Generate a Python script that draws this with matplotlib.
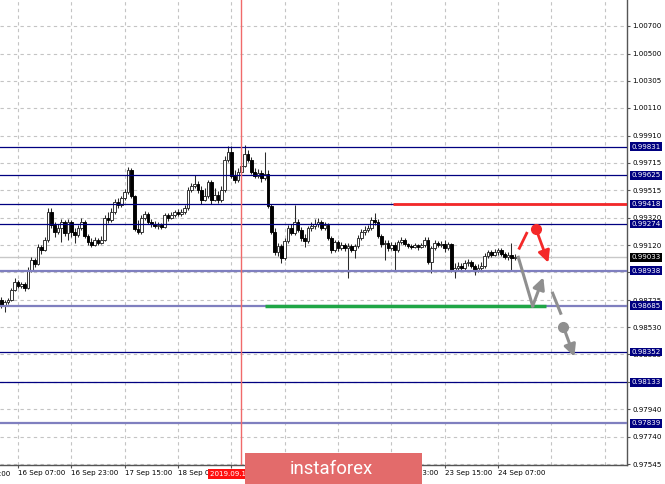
import numpy as np
import matplotlib
matplotlib.use("Agg")
import matplotlib.pyplot as plt
from matplotlib.patches import Rectangle
from matplotlib.transforms import blended_transform_factory

# EURCHF-like H1 candles
first_open = 0.98728
closes = [0.98692, 0.98714, 0.98728, 0.98800, 0.98857, 0.98829, 0.98843, 0.98814, 0.98944, 0.99016,
          0.98987, 0.99109, 0.99087, 0.99159, 0.99361, 0.99267, 0.99217, 0.99246, 0.99289, 0.99210,
          0.99289, 0.99217, 0.99195, 0.99246, 0.99289, 0.99188, 0.99145, 0.99123, 0.99159, 0.99138,
          0.99159, 0.99318, 0.99303, 0.99361, 0.99433, 0.99411, 0.99461, 0.99505, 0.99663, 0.99476,
          0.99239, 0.99217, 0.99318, 0.99346, 0.99289, 0.99275, 0.99260, 0.99267, 0.99253, 0.99339,
          0.99318, 0.99339, 0.99361, 0.99346, 0.99361, 0.99390, 0.99519, 0.99548, 0.99562, 0.99519,
          0.99447, 0.99476, 0.99577, 0.99447, 0.99483, 0.99447, 0.99519, 0.99735, 0.99792, 0.99620,
          0.99591, 0.99648, 0.99692, 0.99778, 0.99735, 0.99648, 0.99620, 0.99641, 0.99607, 0.99634,
          0.99404, 0.99217, 0.99073, 0.99116, 0.99030, 0.99152, 0.99246, 0.99210, 0.99289, 0.99231,
          0.99174, 0.99152, 0.99246, 0.99260, 0.99275, 0.99289, 0.99246, 0.99267, 0.99174, 0.99087,
          0.99145, 0.99102, 0.99123, 0.99102, 0.99116, 0.99087, 0.99116, 0.99174, 0.99217, 0.99231,
          0.99246, 0.99303, 0.99289, 0.99188, 0.99131, 0.99138, 0.99102, 0.99123, 0.99087, 0.99145,
          0.99159, 0.99131, 0.99116, 0.99109, 0.99123, 0.99109, 0.99123, 0.99159, 0.99001, 0.99102,
          0.99138, 0.99123, 0.99131, 0.99102, 0.99131, 0.98944, 0.98958, 0.98973, 0.98958, 0.98994,
          0.99001, 0.98973, 0.98944, 0.98958, 0.98973, 0.99044, 0.99073, 0.99052, 0.99073, 0.99087,
          0.99059, 0.99037, 0.99052, 0.99030, 0.99033]
highs = [0.98750, 0.98728, 0.98742, 0.98814, 0.98886, 0.98872, 0.98857, 0.98857, 0.98965, 0.99037,
         0.99030, 0.99131, 0.99123, 0.99181, 0.99390, 0.99390, 0.99289, 0.99275, 0.99311, 0.99303,
         0.99311, 0.99303, 0.99246, 0.99267, 0.99318, 0.99303, 0.99203, 0.99174, 0.99181, 0.99174,
         0.99188, 0.99339, 0.99361, 0.99390, 0.99454, 0.99461, 0.99476, 0.99526, 0.99684, 0.99677,
         0.99483, 0.99303, 0.99339, 0.99368, 0.99361, 0.99311, 0.99296, 0.99289, 0.99282, 0.99354,
         0.99354, 0.99361, 0.99375, 0.99382, 0.99382, 0.99411, 0.99540, 0.99569, 0.99627, 0.99584,
         0.99548, 0.99533, 0.99591, 0.99591, 0.99533, 0.99512, 0.99548, 0.99764, 0.99835, 0.99835,
         0.99663, 0.99677, 0.99713, 0.99842, 0.99807, 0.99757, 0.99677, 0.99670, 0.99663, 0.99792,
         0.99663, 0.99418, 0.99246, 0.99138, 0.99131, 0.99174, 0.99267, 0.99275, 0.99411, 0.99311,
         0.99253, 0.99203, 0.99260, 0.99289, 0.99311, 0.99318, 0.99303, 0.99289, 0.99282, 0.99188,
         0.99159, 0.99159, 0.99145, 0.99138, 0.99138, 0.99131, 0.99131, 0.99195, 0.99239, 0.99260,
         0.99267, 0.99325, 0.99354, 0.99311, 0.99203, 0.99159, 0.99159, 0.99145, 0.99145, 0.99159,
         0.99181, 0.99174, 0.99138, 0.99131, 0.99138, 0.99131, 0.99138, 0.99181, 0.99181, 0.99116,
         0.99159, 0.99152, 0.99152, 0.99159, 0.99145, 0.99138, 0.98994, 0.99001, 0.98994, 0.99016,
         0.99023, 0.99016, 0.98987, 0.98987, 0.99001, 0.99066, 0.99087, 0.99087, 0.99095, 0.99102,
         0.99102, 0.99073, 0.99073, 0.99138, 0.99059]
lows = [0.98671, 0.98642, 0.98699, 0.98721, 0.98793, 0.98814, 0.98814, 0.98793, 0.98807, 0.98929,
        0.98965, 0.98980, 0.99059, 0.99080, 0.99145, 0.99246, 0.99181, 0.99203, 0.99145, 0.99188,
        0.99159, 0.99181, 0.99138, 0.99181, 0.99231, 0.99174, 0.99123, 0.99109, 0.99116, 0.99123,
        0.99131, 0.99152, 0.99282, 0.99289, 0.99346, 0.99390, 0.99397, 0.99447, 0.99491, 0.99461,
        0.99224, 0.99203, 0.99203, 0.99303, 0.99275, 0.99253, 0.99246, 0.99239, 0.99239, 0.99246,
        0.99296, 0.99311, 0.99325, 0.99332, 0.99332, 0.99346, 0.99375, 0.99505, 0.99533, 0.99498,
        0.99418, 0.99440, 0.99461, 0.99418, 0.99440, 0.99425, 0.99433, 0.99505, 0.99721, 0.99607,
        0.99569, 0.99577, 0.99634, 0.99684, 0.99721, 0.99634, 0.99607, 0.99607, 0.99577, 0.99591,
        0.99390, 0.99203, 0.99052, 0.99044, 0.98994, 0.99016, 0.99138, 0.99195, 0.99195, 0.99217,
        0.99152, 0.99109, 0.99138, 0.99224, 0.99239, 0.99253, 0.99231, 0.99231, 0.99159, 0.99066,
        0.99073, 0.99080, 0.99087, 0.99080, 0.98886, 0.99073, 0.99030, 0.99102, 0.99159, 0.99195,
        0.99217, 0.99231, 0.99267, 0.99174, 0.99109, 0.99016, 0.99080, 0.99087, 0.98944, 0.99073,
        0.99131, 0.99116, 0.99102, 0.99095, 0.99102, 0.99087, 0.99102, 0.99109, 0.98987, 0.98922,
        0.99087, 0.99109, 0.99109, 0.99073, 0.99087, 0.98929, 0.98886, 0.98944, 0.98937, 0.98944,
        0.98973, 0.98958, 0.98908, 0.98929, 0.98944, 0.98958, 0.99030, 0.99037, 0.99044, 0.99052,
        0.99044, 0.99023, 0.99016, 0.98944, 0.99016]
opens = [first_open] + closes[:-1]

# price grid; the labels hidden under level boxes are left blank
price_ticks = [1.00700, 1.00500, 1.00305, 1.00110, 0.99910, 0.99715, 0.99515, 0.99320, 0.99120,
               0.98925, 0.98725, 0.98530, 0.98335, 0.98135, 0.97940, 0.97740, 0.97545]
price_hidden = [0.98925, 0.98135]
time_ticks = [5, 21, 37, 53, 69, 85, 101, 117, 133, 149]
time_labels = ["16 Sep 07:00", "16 Sep 23:00", "17 Sep 15:00", "18 Sep 07:00",
               "", "", "", "20 Sep 23:00", "23 Sep 15:00", "24 Sep 07:00"]
cut_label = "15 Sep 15:00"   # tick just left of the view, only its tail shows
grid_bars = [5, 21, 37, 53, 69, 85, 101, 117, 133, 149, 165, 181]
levels_dark = [0.99831, 0.99625, 0.99418, 0.99274, 0.98352, 0.98133]
levels_light = [0.98938, 0.98685, 0.97839]
bid = 0.99033
now_bar = 72
now_label = "2019.09.19 02:00"

# forecast drawing (bar index, price)
red_target = 0.99418
red_from = 117.5
green_level = 0.98685
green_span = [79.1, 163.4]
red_dash_x = [155.4, 157.6]
red_dash_y = [0.99099, 0.99207]
red_dot = (160.4, 0.99238)
red_tip = (164.1, 0.98995)
grey_path_x = [155.1, 159.4]
grey_path_y = [0.99034, 0.98683]
grey_tip = (162.6, 0.98890)
grey_dash_x = [165.4, 167.8]
grey_dash_y = [0.98775, 0.98631]
grey_dot = (168.6, 0.98534)
grey_tip2 = (171.9, 0.98318)

W, H = 665, 484
fig = plt.figure(figsize=(W / 100, H / 100), dpi=100)
ax = fig.add_axes([0, 19 / H, 627 / W, 465 / H])

# grid
for g in grid_bars:
    ax.axvline(g, color="#c4c4c4", lw=0.8, ls=(0, (3, 3)), zorder=1)
for p in price_ticks:
    ax.axhline(p, color="#c4c4c4", lw=0.8, ls=(0, (3, 3)), zorder=1)

# level lines
ax.axhline(bid, color="#c8c8c8", lw=1, zorder=2)
for lv in levels_dark:
    ax.axhline(lv, color="#000080", lw=0.9, zorder=5)
for lv in levels_light:
    ax.axhline(lv, color="#7f7fbf", lw=1.6, zorder=5)
ax.axvline(now_bar, color="#f06a6a", lw=1, zorder=6)

# candles
x = np.arange(len(closes))
o = np.array(opens)
c = np.array(closes)
up = c >= o
ax.vlines(x, lows, highs, color="#2a2a2a", lw=0.75, zorder=3)
ax.bar(x[up], (c - o)[up], bottom=o[up], width=0.75, color="white",
       edgecolor="#2a2a2a", lw=0.65, zorder=4)
ax.bar(x[~up], (c - o)[~up], bottom=o[~up], width=0.75, color="black",
       edgecolor="black", lw=0.65, zorder=4)

# forecast marks
ax.hlines(red_target, red_from, 187.7, color="#f42828", lw=2, zorder=7)
ax.hlines(green_level, green_span[0], green_span[1], color="#1fa646", lw=2.5, zorder=7)
ax.plot(red_dash_x, red_dash_y, color="#f42828", lw=2, zorder=8)
ax.plot(*red_dot, "o", color="#f42828", ms=7, zorder=8)
ax.annotate("", xy=red_tip, xytext=red_dot,
            arrowprops=dict(arrowstyle="-|>,head_length=0.7,head_width=0.35",
                            color="#f42828", lw=2, shrinkA=0, shrinkB=0), zorder=8)
ax.plot(grey_path_x, grey_path_y, color="#8f8f8f", lw=2.2, zorder=8)
ax.annotate("", xy=grey_tip, xytext=(grey_path_x[1], grey_path_y[1]),
            arrowprops=dict(arrowstyle="-|>,head_length=0.7,head_width=0.35",
                            color="#8f8f8f", lw=2.2, shrinkA=0, shrinkB=0), zorder=8)
ax.plot(grey_dash_x, grey_dash_y, color="#8f8f8f", lw=2.2, zorder=8)
ax.plot(*grey_dot, "o", color="#8f8f8f", ms=7, zorder=8)
ax.annotate("", xy=grey_tip2, xytext=grey_dot,
            arrowprops=dict(arrowstyle="-|>,head_length=0.7,head_width=0.35",
                            color="#8f8f8f", lw=2.2, shrinkA=0, shrinkB=0), zorder=8)

# axes
for s in ["left", "top"]:
    ax.spines[s].set_visible(False)
for s in ["right", "bottom"]:
    ax.spines[s].set_color("#555555")
    ax.spines[s].set_linewidth(1)
ax.yaxis.tick_right()
ax.set_yticks(price_ticks)
ax.set_yticklabels(["" if p in price_hidden else f"{p:.5f}" for p in price_ticks])
ax.set_xticks(time_ticks)
ax.set_xticklabels(time_labels, ha="left")
ax.tick_params(axis="y", length=2, pad=1.7, labelsize=5.1, color="#555555")
ax.tick_params(axis="x", length=2.2, pad=1.5, labelsize=5.1, color="#555555")
# limits last: set_xticks would widen them
ax.set_xlim(-0.4, 187.7)
ax.set_ylim(0.97538, 1.00887)

xlab_y = ax.xaxis.get_ticklabels()[0]
fig.text(10 / W, 10 / H, cut_label, fontsize=5.1, va="center", ha="right")

trans = blended_transform_factory(ax.transAxes, ax.transData)
for lv in levels_dark + levels_light:
    ax.text(1.0075, lv, f"{lv:.5f}", transform=trans, color="white", fontsize=5.1,
            va="center", ha="left", clip_on=False, zorder=10,
            bbox=dict(boxstyle="square,pad=0.2", fc="#000080", ec="none"))
ax.text(1.0075, bid, f"{bid:.5f}", transform=trans, color="white", fontsize=5.1,
        va="center", ha="left", clip_on=False, zorder=10,
        bbox=dict(boxstyle="square,pad=0.2", fc="black", ec="none"))

# current-time label and watermark
fig.text(210 / W, 10 / H, now_label, color="white", fontsize=5.1, va="center", ha="left",
         bbox=dict(boxstyle="square,pad=0.25", fc="#ff1010", ec="none"), zorder=20)
fig.patches.append(Rectangle((245 / W, 0), 177 / W, 31 / H, transform=fig.transFigure,
                             fc="#e36b6b", ec="none", zorder=30))
fig.text(290 / W, 10 / H, "instaforex", color="white", fontsize=13.4, family="Roboto",
         va="baseline", ha="left", zorder=31)

fig.savefig("out.png", dpi=100)
